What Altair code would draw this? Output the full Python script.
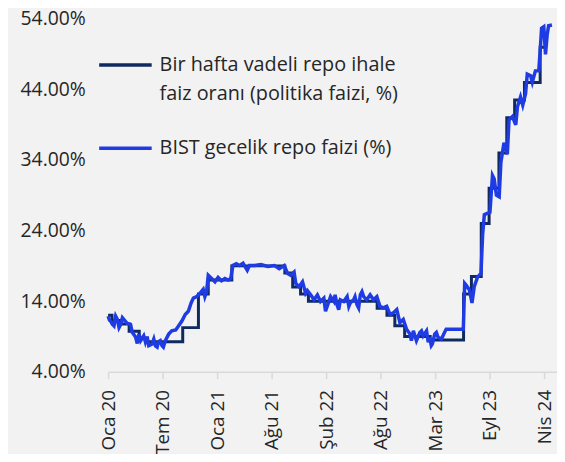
import altair as alt
import pandas as pd

# ---- data -------------------------------------------------------------
policy_name = "Bir hafta vadeli repo ihale|faiz oranı (politika faizi, %)"
bist_name = "BIST gecelik repo faizi (%)"

policy_dates = [
    "2020-01-02", "2020-01-16", "2020-02-19", "2020-03-17", "2020-04-22",
    "2020-05-21", "2020-09-24", "2020-11-19", "2020-12-24", "2021-03-18",
    "2021-09-23", "2021-10-21", "2021-11-18", "2021-12-16", "2022-08-18",
    "2022-09-22", "2022-10-20", "2022-11-24", "2023-02-23", "2023-06-22",
    "2023-07-20", "2023-08-24", "2023-09-21", "2023-10-26", "2023-11-23",
    "2023-12-21", "2024-01-25", "2024-03-21", "2024-04-10",
]
policy_values = [
    12.00, 11.25, 10.75, 9.75, 8.75,
    8.25, 10.25, 15.00, 17.00, 19.00,
    18.00, 16.00, 15.00, 14.00, 13.00,
    12.00, 10.50, 9.00, 8.50, 15.00,
    17.50, 25.00, 30.00, 35.00, 40.00,
    42.50, 45.00, 50.00, 50.00,
]

bist_dates = [
    "2020-01-02", "2020-01-07", "2020-01-11", "2020-01-17", "2020-01-23",
    "2020-01-29", "2020-02-04", "2020-02-10", "2020-02-16", "2020-02-22",
    "2020-02-27", "2020-03-10", "2020-03-22", "2020-03-28", "2020-04-09",
    "2020-04-15", "2020-04-21", "2020-04-27", "2020-05-08", "2020-05-14",
    "2020-05-20", "2020-05-26", "2020-06-07", "2020-06-13", "2020-06-19",
    "2020-06-25", "2020-06-30", "2020-07-06", "2020-07-12", "2020-07-17",
    "2020-07-24", "2020-08-05", "2020-08-16", "2020-08-30", "2020-09-09",
    "2020-09-21", "2020-10-03", "2020-10-14", "2020-10-24", "2020-11-01",
    "2020-11-13", "2020-11-25", "2020-12-06", "2020-12-12", "2020-12-18",
    "2020-12-24", "2021-01-05", "2021-01-17", "2021-01-28", "2021-02-09",
    "2021-02-21", "2021-03-05", "2021-03-14", "2021-03-22", "2021-04-03",
    "2021-04-15", "2021-04-27", "2021-05-12", "2021-05-20", "2021-06-07",
    "2021-06-30", "2021-07-24", "2021-08-17", "2021-09-03", "2021-09-21",
    "2021-10-03", "2021-10-14", "2021-10-26", "2021-11-01", "2021-11-13",
    "2021-11-25", "2021-12-06", "2021-12-12", "2021-12-24", "2022-01-05",
    "2022-01-17", "2022-01-28", "2022-02-09", "2022-02-15", "2022-02-21",
    "2022-03-05", "2022-03-17", "2022-03-21", "2022-03-28", "2022-04-03",
    "2022-04-09", "2022-04-21", "2022-05-03", "2022-05-09", "2022-05-14",
    "2022-05-26", "2022-05-31", "2022-06-07", "2022-06-13", "2022-06-19",
    "2022-06-25", "2022-07-01", "2022-07-12", "2022-07-24", "2022-08-05",
    "2022-08-17", "2022-08-28", "2022-09-09", "2022-09-21", "2022-10-03",
    "2022-10-15", "2022-10-27", "2022-11-07", "2022-11-19", "2022-12-01",
    "2022-12-13", "2022-12-18", "2022-12-25", "2023-01-05", "2023-01-17",
    "2023-01-23", "2023-01-29", "2023-02-10", "2023-02-16", "2023-02-21",
    "2023-02-27", "2023-03-03", "2023-03-11", "2023-03-17", "2023-03-23",
    "2023-04-04", "2023-04-15", "2023-04-21", "2023-06-21", "2023-06-26",
    "2023-07-01", "2023-07-13", "2023-07-22", "2023-07-30", "2023-08-11",
    "2023-08-23", "2023-08-29", "2023-09-04", "2023-09-16", "2023-09-24",
    "2023-10-03", "2023-10-09", "2023-10-17", "2023-10-27", "2023-11-02",
    "2023-11-13", "2023-11-25", "2023-12-01", "2023-12-13", "2023-12-25",
    "2023-12-31", "2024-01-11", "2024-01-19", "2024-01-29", "2024-02-04",
    "2024-02-16", "2024-02-22", "2024-03-04", "2024-03-16", "2024-03-22",
    "2024-03-26", "2024-04-03", "2024-04-09", "2024-04-15", "2024-04-20",
    "2024-05-02",
]
bist_values = [
    11.87, 11.30, 11.18, 10.72, 10.48,
    11.87, 11.41, 10.26, 10.72, 11.65,
    11.41, 10.86, 10.72, 9.60, 8.91,
    8.00, 9.33, 8.40, 9.09, 8.21,
    9.00, 7.70, 7.94, 8.63, 7.66,
    7.48, 8.26, 8.40, 7.70, 7.48,
    8.40, 9.33, 9.79, 9.92, 10.48,
    11.18, 12.11, 12.57, 13.74, 14.43,
    14.65, 15.13, 15.68, 14.65, 15.35,
    17.67, 17.21, 16.74, 17.35, 16.88,
    17.21, 16.98, 17.21, 19.06, 19.30,
    19.06, 19.38, 18.37, 19.06, 19.06,
    19.20, 18.92, 19.06, 18.60, 19.06,
    17.91, 17.67, 18.13, 16.52, 16.04,
    16.74, 15.13, 15.50, 14.89, 14.19,
    14.89, 13.96, 14.43, 12.57, 13.26,
    14.65, 13.96, 14.89, 13.50, 12.80,
    14.19, 13.96, 14.65, 13.26, 13.74,
    14.19, 14.65, 13.50, 13.04, 14.89,
    15.35, 14.65, 14.19, 14.89, 14.19,
    14.65, 13.26, 13.04, 13.26, 12.11,
    12.34, 12.80, 10.95, 11.41, 10.02,
    9.33, 8.40, 9.79, 8.40, 9.56,
    9.79, 9.09, 9.79, 8.17, 8.87,
    7.70, 7.94, 9.33, 9.56, 8.87,
    8.63, 9.56, 10.02, 10.02, 16.52,
    16.28, 15.59, 13.74, 16.04, 17.44,
    17.91, 23.47, 26.25, 26.48, 26.60,
    31.82, 31.34, 29.03, 28.80, 33.67,
    36.45, 34.82, 39.69, 40.16, 38.99,
    41.55, 42.94, 41.78, 43.40, 46.18,
    45.95, 45.03, 46.64, 46.64, 50.12,
    52.68, 52.90, 48.97, 51.75, 53.04,
    53.14,
]
assert len(bist_dates) == len(bist_values)
assert len(policy_dates) == len(policy_values)

y_ticks = [4, 14, 24, 34, 44, 54]
x_tick_dates = [
    "2020-01-02", "2020-07-14", "2021-01-25", "2021-08-07", "2022-02-17",
    "2022-08-30", "2023-03-13", "2023-09-23", "2024-04-05",
]
x_domain = ["2020-01-02", "2024-05-20"]
month_labels = ["Oca", "Şub", "Mar", "Nis", "May", "Haz",
                "Tem", "Ağu", "Eyl", "Eki", "Kas", "Ara"]

colors = ["#0e2a5e", "#1f3ce4"]

# ---- build ------------------------------------------------------------
def dt(s):
    t = pd.Timestamp(s)
    return alt.DateTime(year=t.year, month=t.month, date=t.day, utc=True)

policy_df = pd.DataFrame({"date": policy_dates, "value": policy_values, "series": policy_name})
bist_df = pd.DataFrame({"date": bist_dates, "value": bist_values, "series": bist_name})

FONT = "Open Sans"
TXT = "#262626"

month_arr = "[" + ",".join("'" + m + "'" for m in month_labels) + "]"
x_label_expr = month_arr + "[utcmonth(datum.value)] + ' ' + utcFormat(datum.value, '%y')"

x_enc = alt.X(
    "date:T",
    scale=alt.Scale(type="utc", domain=[dt(d) for d in x_domain], nice=False),
    axis=alt.Axis(
        title=None,
        values=[dt(d) for d in x_tick_dates],
        labelExpr=x_label_expr,
        labelAngle=270,
        labelAlign="right",
        labelBaseline="middle",
        labelPadding=11,
        labelFontSize=19,
        labelFont=FONT,
        labelColor=TXT,
        labelOverlap=False,
        labelFlush=False,
        domainColor="#d9d9d9",
        domainWidth=1.5,
        tickColor="#d9d9d9",
        tickWidth=1.5,
        tickSize=7,
        grid=False,
    ),
)
y_enc = alt.Y(
    "value:Q",
    scale=alt.Scale(domain=[4, 54], nice=False, zero=False),
    axis=alt.Axis(
        title=None,
        values=y_ticks,
        labelExpr="format(datum.value, '.2f') + '%'",
        labelFontSize=19.5,
        labelFont=FONT,
        labelColor=TXT,
        labelPadding=23,
        domain=False,
        ticks=False,
        grid=False,
    ),
)
color_scale = alt.Scale(domain=[policy_name, bist_name], range=colors)

policy_line = alt.Chart(policy_df).mark_line(
    strokeWidth=3, interpolate="step-after"
).encode(
    x=x_enc,
    y=y_enc,
    color=alt.Color(
        "series:N",
        scale=color_scale,
        legend=alt.Legend(
            title=None,
            orient="none",
            legendX=-11,
            legendY=18,
            symbolType="stroke",
            symbolSize=2809,
            symbolStrokeWidth=3.5,
            labelExpr="split(datum.label, '|')",
            labelFontSize=20,
            labelFont=FONT,
            labelColor=TXT,
            labelLimit=500,
            labelOffset=6,
            labelBaseline="middle",
            rowPadding=16,
            padding=0,
        ),
    ),
)
bist_line = alt.Chart(bist_df).mark_line(strokeWidth=3.5).encode(
    x=x_enc, y=y_enc, color=alt.Color("series:N", scale=color_scale)
)

chart = (
    alt.layer(policy_line, bist_line)
    .properties(
        width=453,
        height=356,
        padding={"left": 101, "top": 9, "right": 0, "bottom": 81},
        autosize=alt.AutoSizeParams(type="none"),
        background="#f2f2f2",
    )
    .configure(
        style={"guide-label": {"lineHeight": 29}},
        view=alt.ViewConfig(strokeWidth=0),
    )
)

chart.save("out.html", embed_options={"renderer": "svg", "actions": False})
